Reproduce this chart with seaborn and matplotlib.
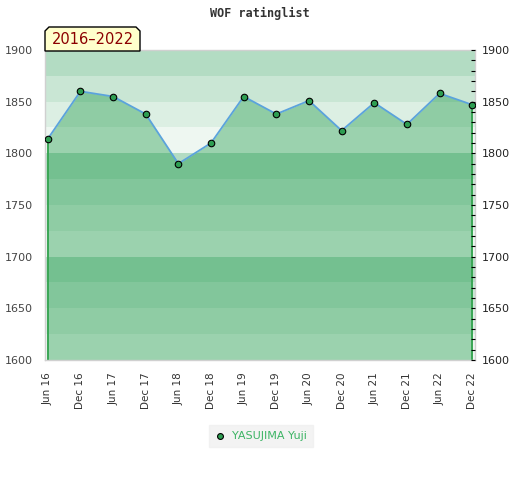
import matplotlib
matplotlib.use("Agg")
import matplotlib.pyplot as plt
from matplotlib.patches import Polygon
from matplotlib.ticker import MultipleLocator
import seaborn as sns
import pandas as pd
import numpy as np

# ---- data ----
periods = ["Jun 16", "Dec 16", "Jun 17", "Dec 17", "Jun 18", "Dec 18", "Jun 19",
           "Dec 19", "Jun 20", "Dec 20", "Jun 21", "Dec 21", "Jun 22", "Dec 22"]
ratings = [1814, 1860, 1855, 1838, 1790, 1810, 1855,
           1838, 1851, 1822, 1849, 1828, 1858, 1847]
player = "YASUJIMA Yuji"
title = "WOF ratinglist"
period_label = "2016\u20132022"
y_ticks = [1600, 1650, 1700, 1750, 1800, 1850, 1900]

df = pd.DataFrame({"idx": np.arange(len(periods)), "rating": ratings})

sns.set_style("white")
plt.rcParams["font.family"] = ["DejaVu Sans"]

fig = plt.figure(figsize=(5.2, 4.8), dpi=100)
ax = fig.add_axes([45/520, 1-360/480, 430/520, 310/480])

ymin, ymax = 1600, 1900
ax.set_ylim(ymin, ymax)
ax.set_xlim(-0.085, len(periods) - 1 + 0.085)

# background bands (pattern repeats every 100 points)
shades = ["#b3dcc3", "#c9e6d4", "#dcefe3", "#eef7f1"]
for base in range(ymin, ymax, 100):
    for i, c in enumerate(shades):
        top = base + 100 - 25 * i
        ax.axhspan(top - 25, top, color=c, lw=0, zorder=0)

# filled area under the rating line
ax.fill_between(df["idx"], ymin, df["rating"], color="#008d31", alpha=0.35,
                lw=0, zorder=1)
edge_green = "#3aa655"
ax.vlines([df["idx"].iloc[0], df["idx"].iloc[-1]], ymin,
          [df["rating"].iloc[0], df["rating"].iloc[-1]],
          color=edge_green, lw=1.4, zorder=2)

sns.lineplot(data=df, x="idx", y="rating", ax=ax, color="#5ba3dc", lw=1.3,
             zorder=3, legend=False)
sns.scatterplot(data=df, x="idx", y="rating", ax=ax, color="#2e9e52",
                edgecolor="black", linewidth=0.8, s=22, zorder=4,
                label=player, legend=False)

# axes styling
for sp in ax.spines.values():
    sp.set_color("#d0d0d0")
    sp.set_linewidth(1.0)
ax.set_xlabel("")
ax.set_ylabel("")
ax.set_xticks(df["idx"])
ax.set_xticklabels(periods, rotation=90, fontsize=7.5, color="#333333")
ax.tick_params(axis="x", length=0, pad=9)
ax.set_yticks(y_ticks)
ax.set_yticklabels([str(v) for v in y_ticks], fontsize=8, color="#444444")
ax.tick_params(axis="y", length=0, pad=9)

ax2 = ax.twinx()
ax2.set_ylim(ymin, ymax)
ax2.set_yticks(y_ticks)
ax2.set_yticklabels([str(v) for v in y_ticks], fontsize=8, color="#222222")
ax2.yaxis.set_minor_locator(MultipleLocator(10))
ax2.tick_params(axis="y", which="major", length=3, width=0.8, direction="in",
                color="black", pad=5)
ax2.tick_params(axis="y", which="minor", length=3, width=0.8, direction="in",
                color="black")
for sp in ax2.spines.values():
    sp.set_visible(False)
ax2.grid(False)
ax.grid(False)

# title
fig.text(0.5, 1-13/480, title, ha="center", va="center", fontsize=8.5,
         family="DejaVu Sans Mono", fontweight="bold", color="#333333")

# period label tab
x0, x1 = 45/520, 140/520
y0, y1 = 1-51/480, 1-27/480
cx, cy = 4/520, 4/480
tab = Polygon([(x0, y0), (x0, y1 - cy), (x0 + cx, y1), (x1 - cx, y1),
               (x1, y1 - cy), (x1, y0)], closed=True, transform=fig.transFigure,
              facecolor="#ffffcc", edgecolor="black", lw=1.0, zorder=10)
fig.patches.append(tab)
fig.text((x0 + x1) / 2, (y0 + y1) / 2, period_label, ha="center", va="center",
         fontsize=10.5, color="#8b0000", zorder=11)

# legend
h, l = ax.get_legend_handles_labels()
leg = fig.legend(h, l, loc="center", bbox_to_anchor=(261/520, 1-436/480),
                 frameon=True, fancybox=False, facecolor="#f0f0f0",
                 edgecolor="#f0f0f0", fontsize=8, handletextpad=0.6,
                 borderpad=0.5, borderaxespad=0, handlelength=1.0,
                 markerscale=0.9)
for t in leg.get_texts():
    t.set_color("#3cb464")

fig.savefig("out.png", dpi=100)
